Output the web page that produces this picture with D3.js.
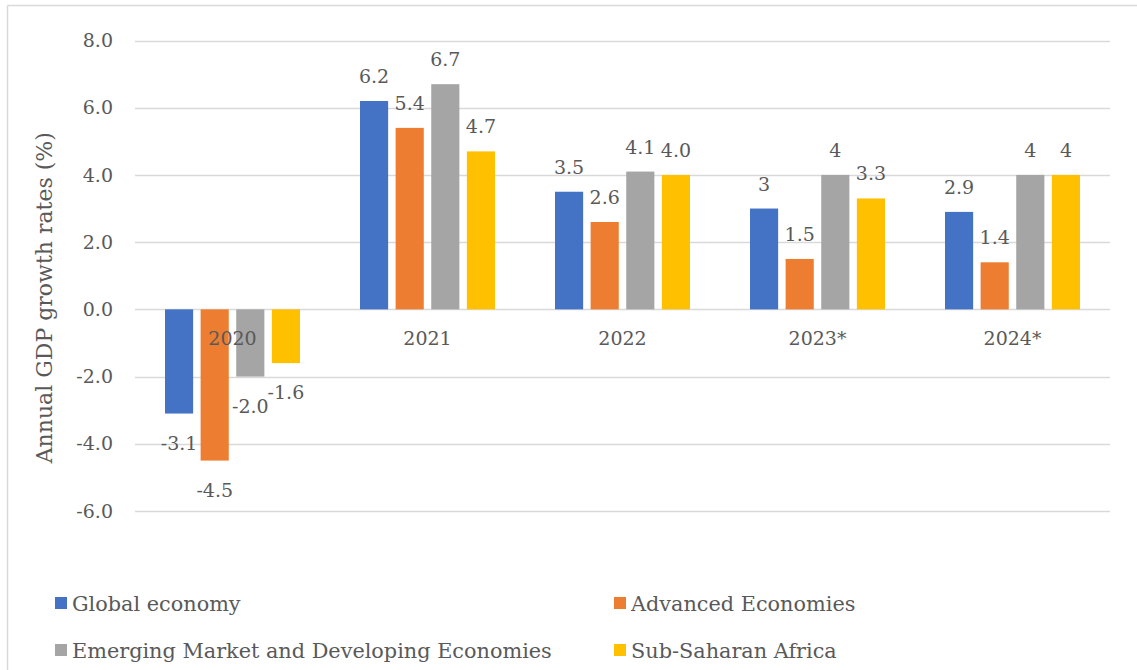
<!DOCTYPE html>
<html>
<head>
<meta charset="utf-8">
<script src="https://cdn.jsdelivr.net/npm/d3@7"></script>
<style>
  html, body { margin: 0; padding: 0; background: #fff; }
  svg { display: block; }
  text { font-family: "DejaVu Serif", "Liberation Serif", serif; fill: #595959; }
</style>
</head>
<body>
<svg id="chart" width="1137" height="670"></svg>
<script>
// Annual GDP growth rates by region, 2020–2024 (* = projection)
const years = ["2020", "2021", "2022", "2023*", "2024*"];
const seriesNames = [
  "Global economy",
  "Advanced Economies",
  "Emerging Market and Developing Economies",
  "Sub-Saharan Africa"
];
const globalEconomy   = [-3.1, 6.2, 3.5, 3.0, 2.9];
const advancedEcon    = [-4.5, 5.4, 2.6, 1.5, 1.4];
const emergingEcon    = [-2.0, 6.7, 4.1, 4.0, 4.0];
const subSaharan      = [-1.6, 4.7, 4.0, 3.3, 4.0];
// Value labels as printed on the bars
const globalLabels    = ["-3.1", "6.2", "3.5", "3", "2.9"];
const advancedLabels  = ["-4.5", "5.4", "2.6", "1.5", "1.4"];
const emergingLabels  = ["-2.0", "6.7", "4.1", "4", "4"];
const subSaharanLabels= ["-1.6", "4.7", "4.0", "3.3", "4"];
const yTicks = [-6, -4, -2, 0, 2, 4, 6, 8];
const colors = ["#4472C4", "#ED7D31", "#A5A5A5", "#FFC000"];

const seriesValues = [globalEconomy, advancedEcon, emergingEcon, subSaharan];
const seriesLabels = [globalLabels, advancedLabels, emergingLabels, subSaharanLabels];

const svg = d3.select("#chart");

// chart frame (left and top edges visible)
svg.append("line").attr("x1", 7.5).attr("x2", 7.5).attr("y1", 5.5).attr("y2", 670)
  .attr("stroke", "#d9d9d9").attr("stroke-width", 1.5);
svg.append("line").attr("x1", 7.5).attr("x2", 1137).attr("y1", 5.5).attr("y2", 5.5)
  .attr("stroke", "#d9d9d9").attr("stroke-width", 1.5);

const plot = { left: 135, right: 1110, top: 40.5, bottom: 511 };

const y = d3.scaleLinear().domain([-6, 8]).range([plot.bottom, plot.top]);
const x0 = d3.scaleBand().domain(years).range([plot.left, plot.right]).padding(0);
const x1 = d3.scaleBand().domain(d3.range(4)).range([-67.5, 67.5]).paddingInner(0.21).paddingOuter(0);

// gridlines
svg.append("g").selectAll("line").data(yTicks).join("line")
  .attr("x1", plot.left).attr("x2", plot.right)
  .attr("y1", d => Math.round(y(d)) + 0.5).attr("y2", d => Math.round(y(d)) + 0.5)
  .attr("stroke", "#d9d9d9").attr("stroke-width", 1.5);

// y axis tick labels (plain hyphen for negatives)
const fmt = d3.format(".1f");
const yAxis = d3.axisLeft(y).tickValues(yTicks)
  .tickFormat(d => fmt(d).replace("\u2212", "-"))
  .tickSize(0).tickPadding(0);
const gy = svg.append("g").attr("transform", "translate(113,0)").call(yAxis);
gy.select(".domain").remove();
gy.selectAll("text").attr("font-size", 19).attr("fill", "#595959")
  .attr("font-family", "DejaVu Serif, serif");

// y axis title
svg.append("text")
  .attr("transform", `translate(52,${(plot.top + plot.bottom) / 2 + 22}) rotate(-90)`)
  .attr("text-anchor", "middle")
  .attr("font-size", 22)
  .text("Annual GDP growth rates (%)");

// bars
const groups = svg.append("g").selectAll("g").data(years).join("g")
  .attr("transform", d => `translate(${x0(d) + x0.bandwidth() / 2},0)`);

groups.each(function(year, yi) {
  const g = d3.select(this);
  seriesValues.forEach((vals, si) => {
    const v = vals[yi];
    g.append("rect")
      .attr("x", x1(si))
      .attr("width", x1.bandwidth())
      .attr("y", Math.min(y(v), y(0)))
      .attr("height", Math.abs(y(v) - y(0)))
      .attr("fill", colors[si]);
  });
});

// category labels
svg.append("g").selectAll("text").data(years).join("text")
  .attr("x", d => x0(d) + x0.bandwidth() / 2)
  .attr("y", y(0) + 36)
  .attr("text-anchor", "middle")
  .attr("font-size", 19)
  .text(d => d);

// value labels
groups.each(function(year, yi) {
  const g = d3.select(this);
  seriesValues.forEach((vals, si) => {
    const v = vals[yi];
    g.append("text")
      .attr("x", x1(si) + x1.bandwidth() / 2)
      .attr("y", v >= 0 ? y(v) - 18 : y(v) + 36)
      .attr("text-anchor", "middle")
      .attr("font-size", 19)
      .text(seriesLabels[si][yi]);
  });
});

// legend
const legendPos = [[55, 604], [614, 604], [55, 651], [614, 651]];
const legend = svg.append("g").selectAll("g").data(seriesNames).join("g")
  .attr("transform", (d, i) => `translate(${legendPos[i][0]},${legendPos[i][1]})`);
legend.append("rect").attr("x", 0).attr("y", -7).attr("width", 12).attr("height", 12)
  .attr("fill", (d, i) => colors[i]);
legend.append("text").attr("x", 17).attr("y", 6.5).attr("font-size", 20.8)
  .text(d => d);
</script>
</body>
</html>
